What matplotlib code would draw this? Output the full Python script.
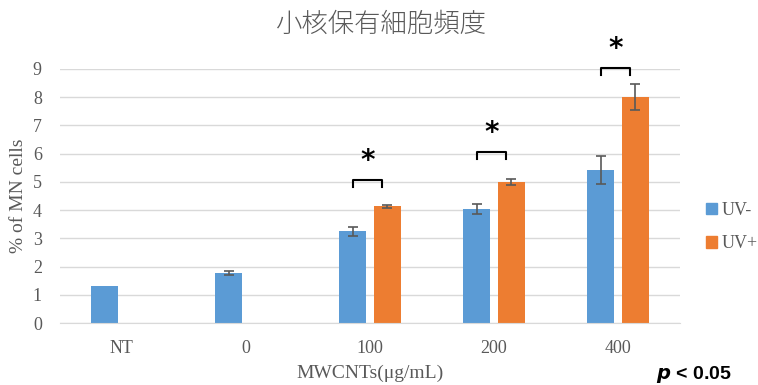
import matplotlib.pyplot as plt
import numpy as np
from matplotlib.patches import Patch

# 小核保有細胞頻度 (% of MN cells)
categories = ['NT', '0', '100', '200', '400']
uv_minus = [1.3, 1.76, 3.25, 4.03, 5.43]
uv_minus_err = [0, 0.07, 0.16, 0.18, 0.5]
uv_plus = [0, 0, 4.13, 5.0, 8.0]
uv_plus_err = [0, 0, 0.06, 0.11, 0.46]
# significance brackets: category index, bracket height
sig_idx = [2, 3, 4]
sig_y = [5.07, 6.07, 9.04]

blue = '#5B9BD5'
orange = '#ED7D31'
grey = '#595959'
serif = ['Liberation Serif', 'DejaVu Serif']

fig = plt.figure(figsize=(7.58, 3.85), dpi=100)
ax = fig.add_axes([0.079, 0.161, 0.818, 0.66])

x = np.arange(len(categories))
w = 0.22
off = 0.14
ax.bar(x - off, uv_minus, w, color=blue, zorder=2)
ax.errorbar(x[1:] - off, uv_minus[1:], yerr=uv_minus_err[1:], fmt='none',
            ecolor=grey, elinewidth=1.2, capsize=3.5, capthick=1.2, zorder=3)
ax.bar(x[2:] + off, uv_plus[2:], w, color=orange, zorder=2)
ax.errorbar(x[2:] + off, uv_plus[2:], yerr=uv_plus_err[2:], fmt='none',
            ecolor=grey, elinewidth=1.2, capsize=3.5, capthick=1.2, zorder=3)

# brackets and stars
for i, yb in zip(sig_idx, sig_y):
    x0, x1 = i - 0.14, i + 0.10
    ax.plot([x0, x0, x1, x1], [yb - 0.25, yb, yb, yb - 0.25], color='black',
            lw=1.5, clip_on=False, zorder=4)
    ax.text((x0 + x1) / 2, yb + 0.18, '*', ha='center', va='bottom',
            fontsize=20, fontweight='bold', family='DejaVu Sans', clip_on=False)

ax.set_xlim(-0.5, 4.5)
ax.set_ylim(0, 9)
ax.set_yticks(range(0, 10))
ax.grid(axis='y', color='#D9D9D9', lw=1, zorder=0)
ax.set_axisbelow(True)
for s in ['top', 'right', 'left']:
    ax.spines[s].set_visible(False)
ax.spines['bottom'].set_color('#D9D9D9')
ax.set_xticks(x)
ax.set_xticklabels(categories)
ax.tick_params(axis='both', length=0, labelsize=13, labelcolor=grey)
ax.tick_params(axis='x', pad=12)
ax.tick_params(axis='y', pad=13)
for lab in ax.get_xticklabels() + ax.get_yticklabels():
    lab.set_family(serif)

ax.set_xlabel('MWCNTs(μg/mL)', fontsize=14, color=grey, family=serif)
ax.xaxis.set_label_coords(0.5, -0.163)
ax.set_ylabel('% of MN cells', fontsize=14, color=grey, family=serif)
ax.yaxis.set_label_coords(-0.053, 0.5)

fig.suptitle('小核保有細胞頻度', x=0.503, y=0.975, fontsize=19, color=grey,
             family=['Noto Sans CJK JP', 'DejaVu Sans'], fontweight='light')

handles = [Patch(color=blue, label='UV-'), Patch(color=orange, label='UV+')]
leg = fig.legend(handles=handles, loc='center left', bbox_to_anchor=(0.91, 0.41),
                 frameon=False, handlelength=0.6, handleheight=0.6, handletextpad=0.25,
                 labelspacing=0.9, prop={'family': serif, 'size': 13})
for t in leg.get_texts():
    t.set_color(grey)

fig.text(0.865, 0.015, r'$\boldsymbol{p}$ < 0.05', fontsize=14, fontweight='bold',
         family=['Liberation Sans', 'DejaVu Sans'])

fig.savefig('out.png', dpi=100)
